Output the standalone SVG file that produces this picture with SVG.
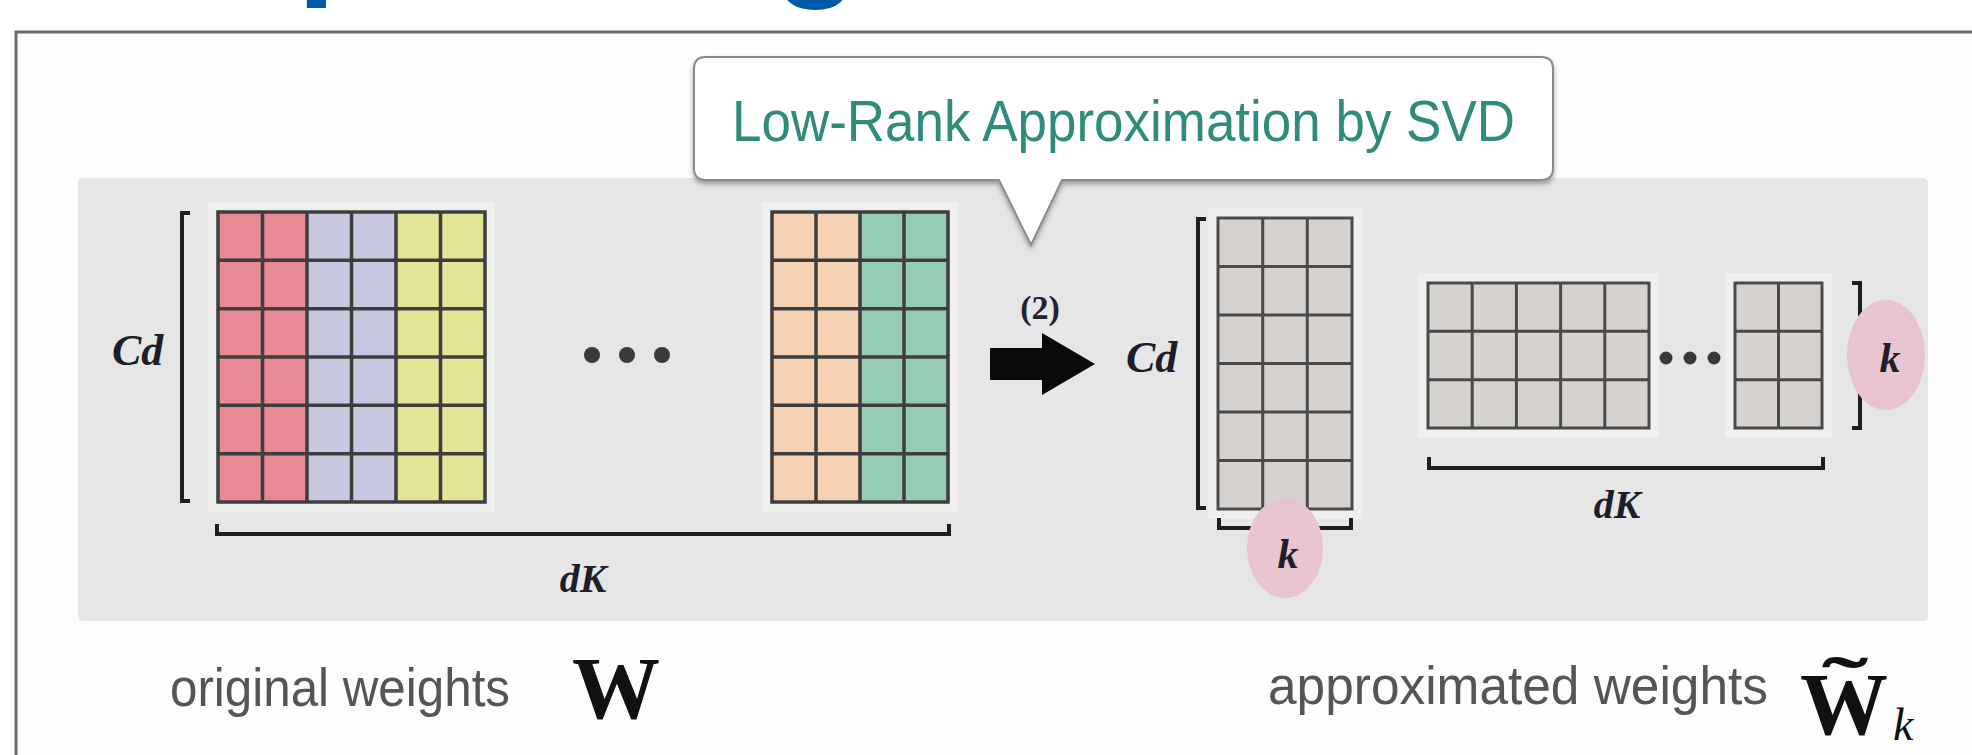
<svg xmlns="http://www.w3.org/2000/svg" width="1972" height="755" viewBox="0 0 1972 755">
<defs>
<style>
.cell{stroke:#3e3e3e;stroke-width:3.5}
.gcell{fill:#d5d2cf;stroke:#4a4a4a;stroke-width:3}
.halo{fill:#efefee}
.br{fill:none;stroke:#1e1e1e;stroke-width:4;stroke-linecap:square}
.math{font-family:"Liberation Serif",serif;font-weight:bold;font-style:italic;fill:#1e1e2a}
.cap{font-family:"Liberation Sans",Arial,sans-serif;fill:#555555}
.bigw{font-family:"Liberation Serif",serif;font-weight:bold;fill:#111111}
.dot{fill:#3a3a3a}
.pink{fill:#e8c4d0}
</style>
<filter id="sh" x="-5%" y="-10%" width="110%" height="130%">
<feDropShadow dx="0" dy="3" stdDeviation="2.5" flood-color="#000" flood-opacity="0.35"/>
</filter>
</defs>
<rect width="1972" height="755" fill="#ffffff"/>
<g id="title-fragment" fill="#0058aa" font-family="Liberation Sans,Arial,sans-serif" font-weight="bold" font-size="140">
<text x="297" y="-21">p</text>
<text x="774" y="-20">g</text>
</g>
<g id="frame">
<rect x="16" y="32" width="1970" height="740" fill="#fdfdfd" stroke="#6a6a6a" stroke-width="3"/>
</g>
<g id="panel">
<rect x="78" y="178" width="1850" height="443" rx="5" fill="#e6e6e6"/>
</g>
<g id="callout">
<path d="M706,57 H1541 Q1553,57 1553,69 V168 Q1553,180 1541,180 H1062 L1031,245 L999,180 H706 Q694,180 694,168 V69 Q694,57 706,57 Z" fill="#ffffff" stroke="#8a8a8a" stroke-width="2" filter="url(#sh)"/>
<text x="732" y="141" font-family="Liberation Sans,Arial,sans-serif" font-size="57" fill="#2f8c7b" textLength="783" lengthAdjust="spacingAndGlyphs">Low-Rank Approximation by SVD</text>
</g>
<g id="original-matrix">
<rect class="halo" x="208" y="202" width="287" height="310"/>
<rect class="halo" x="762" y="202" width="196" height="310"/>
<g>
<rect x="218" y="212" width="89" height="290" fill="#e78a93"/>
<rect x="307" y="212" width="89" height="290" fill="#c8c8e0"/>
<rect x="396" y="212" width="89" height="290" fill="#e5e597"/>
<rect x="772" y="212" width="88" height="290" fill="#f5d2b3"/>
<rect x="860" y="212" width="88" height="290" fill="#96ccb3"/>
</g>
<g class="cell" fill="none">
<rect x="218" y="212" width="267" height="290"/>
<path d="M262.5,212V502M307,212V502M351.5,212V502M396,212V502M440.5,212V502M218,260.3H485M218,308.7H485M218,357H485M218,405.3H485M218,453.7H485"/>
<rect x="772" y="212" width="176" height="290"/>
<path d="M816,212V502M860,212V502M904,212V502M772,260.3H948M772,308.7H948M772,357H948M772,405.3H948M772,453.7H948"/>
</g>
<circle class="dot" cx="592" cy="355" r="8"/>
<circle class="dot" cx="627" cy="355" r="8"/>
<circle class="dot" cx="662" cy="355" r="8"/>
<path class="br" d="M188,213 H182 V501 H188"/>
<text class="math" x="112" y="365" font-size="44">Cd</text>
<path class="br" d="M217,526 V534 H949 V526"/>
<text class="math" x="583" y="592" font-size="40" text-anchor="middle">dK</text>
</g>
<g id="left-factor">
<rect class="halo" x="1208" y="208" width="154" height="311"/>
<rect class="gcell" x="1218" y="218" width="134" height="291"/>
<path d="M1262.7,218V509M1307.3,218V509M1218,266.5H1352M1218,315H1352M1218,363.5H1352M1218,412H1352M1218,460.5H1352" fill="none" stroke="#4a4a4a" stroke-width="3"/>
<path class="br" d="M1204,219 H1198 V508 H1204"/>
<text class="math" x="1126" y="372" font-size="44">Cd</text>
<path class="br" d="M1219,520 V528 H1351 V520"/>
<ellipse class="pink" cx="1285" cy="548" rx="38" ry="50"/>
<text class="math" x="1288" y="568" font-size="42" text-anchor="middle">k</text>
</g>
<g id="right-factor">
<rect class="halo" x="1418" y="273" width="241" height="165"/>
<rect class="halo" x="1725" y="273" width="107" height="165"/>
<rect class="gcell" x="1428" y="283" width="221" height="145"/>
<rect class="gcell" x="1735" y="283" width="87" height="145"/>
<path d="M1472.2,283V428M1516.4,283V428M1560.6,283V428M1604.8,283V428M1428,331.3H1649M1428,379.7H1649M1778.5,283V428M1735,331.3H1822M1735,379.7H1822" fill="none" stroke="#4a4a4a" stroke-width="3"/>
<circle class="dot" cx="1666" cy="358" r="6.5"/>
<circle class="dot" cx="1690" cy="358" r="6.5"/>
<circle class="dot" cx="1714" cy="358" r="6.5"/>
<path class="br" d="M1854,283 H1860 V428 H1854"/>
<ellipse class="pink" cx="1886" cy="355" rx="39" ry="55"/>
<text class="math" x="1890" y="372" font-size="42" text-anchor="middle">k</text>
<path class="br" d="M1429,459 V468 H1823 V459"/>
<text class="math" x="1617" y="518" font-size="40" text-anchor="middle">dK</text>
</g>
<g id="connectors">
<path d="M990,348 H1042 V333 L1095,364 L1042,395 V380 H990 Z" fill="#0a0a0a"/>
<text x="1040" y="319" font-family="Liberation Serif,serif" font-weight="bold" font-size="34" fill="#222233" text-anchor="middle">(2)</text>
</g>
<g id="captions">
<text class="cap" x="170" y="706" font-size="53" textLength="340" lengthAdjust="spacingAndGlyphs">original weights</text>
<text class="bigw" x="572" y="718" font-size="88">W</text>
<text class="cap" x="1268" y="704" font-size="53" textLength="500" lengthAdjust="spacingAndGlyphs">approximated weights</text>
<text class="bigw" x="1800" y="734" font-size="88">W</text>
<text class="bigw" transform="translate(1845,707) scale(2.3,1.2)" font-size="60" text-anchor="middle">˜</text>
<text x="1893" y="740" font-family="Liberation Serif,serif" font-style="italic" font-size="46" fill="#111111">k</text>
</g>
</svg>
